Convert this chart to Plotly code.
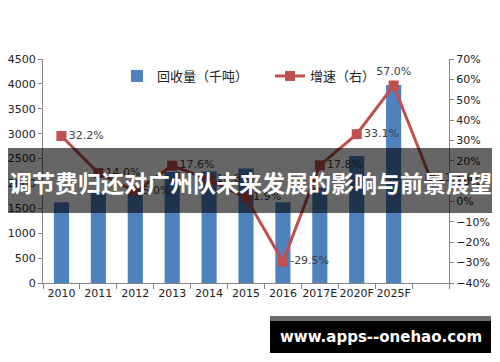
import plotly.graph_objects as go

categories = ["2010", "2011", "2012", "2013", "2014", "2015", "2016", "2017E", "2020F", "2025F", " "]
volume = [1620, 1830, 1870, 2230, 2240, 2300, 1620, 1920, 2550, 3980, None]
growth = [0.322, 0.140, 0.050, 0.176, 0.108, 0.019, -0.295, 0.178, 0.331, 0.570, 0.113]
growth_labels = ["32.2%", "14.0%", "5.0%", "17.6%", "10.8%", "1.9%", "-29.5%", "17.8%", "33.1%", "57.0%", "11.3%"]
label_pos = ["middle right"] * 9 + ["top center", "middle right"]

W, H = 500, 362
L, R, T, B = 43, 449, 59, 283
pw, ph = R - L, B - T

def px(x):
    return (x - L) / pw

def py(y):
    return (B - y) / ph

NUM_FONT = "DejaVu Sans, Verdana, sans-serif"
CJK_FONT = "Noto Sans CJK SC, sans-serif"
AXIS_COLOR = "#868686"

fig = go.Figure()
fig.add_trace(go.Bar(
    x=categories, y=volume, name="回收量（千吨）",
    marker=dict(color="#4F81BD", line=dict(width=0)),
    yaxis="y",
))
fig.add_trace(go.Scatter(
    x=categories, y=growth, name="增速（右）", yaxis="y2",
    mode="lines+markers+text",
    line=dict(color="#C0504D", width=3),
    marker=dict(symbol="square", size=10, color="#C0504D"),
    text=growth_labels, textposition=label_pos,
    textfont=dict(family=NUM_FONT, size=11, color="#404040"),
    cliponaxis=False,
))

fig.update_layout(
    width=W, height=H, autosize=False,
    margin=dict(l=L, r=W - R, t=T, b=H - B, pad=0, autoexpand=False),
    paper_bgcolor="white", plot_bgcolor="white",
    bargap=0.59,
    showlegend=True,
    legend=dict(
        orientation="h", x=px(117), y=py(76), xanchor="left", yanchor="middle",
        font=dict(family=CJK_FONT, size=13, color="#222"),
        bgcolor="rgba(0,0,0,0)", itemwidth=30, entrywidth=108,
    ),
    xaxis=dict(
        type="category", range=[-0.5, 10.5], tickson="boundaries", automargin=False,
        ticks="outside", ticklen=5, tickcolor=AXIS_COLOR, tickangle=0,
        showline=True, linecolor=AXIS_COLOR, linewidth=1,
        showgrid=False, tickfont=dict(family=NUM_FONT, size=11, color="#222"),
    ),
    yaxis=dict(
        range=[0, 4500], dtick=500, ticks="outside", ticklen=4, tickcolor=AXIS_COLOR,
        automargin=False,
        showline=True, linecolor=AXIS_COLOR, linewidth=1, showgrid=False, zeroline=False,
        tickfont=dict(family=NUM_FONT, size=11, color="#222"),
    ),
    yaxis2=dict(
        range=[-0.4, 0.7], dtick=0.1, tickformat=".0%", overlaying="y", side="right",
        ticks="outside", ticklen=4, tickcolor=AXIS_COLOR, automargin=False,
        showline=True, linecolor=AXIS_COLOR, linewidth=1, showgrid=False, zeroline=False,
        tickfont=dict(family=NUM_FONT, size=11, color="#222"),
    ),
)

# title banner overlay
fig.add_shape(type="rect", xref="paper", yref="paper", layer="above",
              x0=px(8), x1=px(492), y0=py(213), y1=py(148),
              fillcolor="rgba(0,0,0,0.6)", line=dict(width=0))
fig.add_annotation(xref="paper", yref="paper", x=px(250), y=py(182),
                   text="<b>调节费归还对广州队未来发展的影响与前景展望</b>", showarrow=False,
                   font=dict(family=CJK_FONT, size=23, color="white"),
                   xanchor="center", yanchor="middle")

# watermark
fig.add_shape(type="rect", xref="paper", yref="paper", layer="above",
              x0=px(270), x1=px(491), y0=py(321), y1=py(316),
              fillcolor="#6b6b6b", line=dict(width=0))
fig.add_shape(type="rect", xref="paper", yref="paper", layer="above",
              x0=px(270), x1=px(491), y0=py(353), y1=py(321),
              fillcolor="black", line=dict(width=0))
fig.add_annotation(xref="paper", yref="paper", x=px(381), y=py(337),
                   text="<b>www.apps--onehao.com</b>", showarrow=False,
                   font=dict(family=NUM_FONT, size=15, color="white"),
                   xanchor="center", yanchor="middle")

fig.write_html("out.html", config={"displayModeBar": False},
               post_script="document.body.style.margin='0';document.body.style.overflow='hidden';")
